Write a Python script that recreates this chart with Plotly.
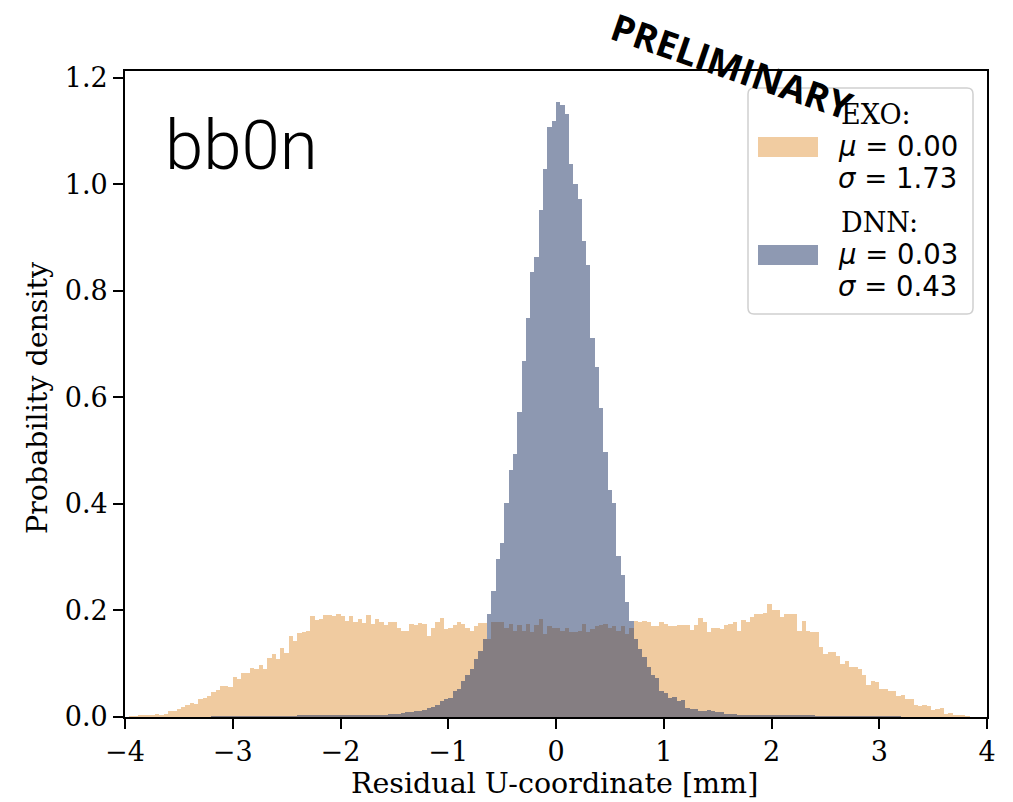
import numpy as np
import plotly.graph_objects as go

# Histogram binning of the residuals (mm)
BIN_LO, BIN_HI, N_BINS = -4.0, 4.0, 200

# Probability density per bin, EXO reconstruction
exo_density = [
    0.000, 0.001, 0.001, 0.002, 0.002, 0.003, 0.003, 0.006, 0.004, 0.006,
    0.011, 0.012, 0.015, 0.018, 0.022, 0.026, 0.024, 0.033, 0.035, 0.040,
    0.047, 0.050, 0.059, 0.058, 0.057, 0.076, 0.071, 0.082, 0.083, 0.092,
    0.090, 0.097, 0.090, 0.110, 0.118, 0.108, 0.129, 0.121, 0.153, 0.143,
    0.157, 0.159, 0.162, 0.189, 0.183, 0.184, 0.192, 0.192, 0.189, 0.194,
    0.189, 0.180, 0.189, 0.178, 0.184, 0.177, 0.192, 0.175, 0.184, 0.178,
    0.172, 0.178, 0.179, 0.168, 0.162, 0.162, 0.175, 0.172, 0.176, 0.175,
    0.153, 0.168, 0.178, 0.185, 0.165, 0.167, 0.172, 0.178, 0.175, 0.168,
    0.162, 0.170, 0.177, 0.177, 0.146, 0.178, 0.178, 0.178, 0.168, 0.175,
    0.162, 0.173, 0.162, 0.175, 0.159, 0.172, 0.184, 0.156, 0.170, 0.168,
    0.167, 0.162, 0.168, 0.160, 0.160, 0.162, 0.175, 0.160, 0.165, 0.170,
    0.173, 0.175, 0.168, 0.170, 0.162, 0.170, 0.156, 0.167, 0.181, 0.178,
    0.181, 0.178, 0.170, 0.170, 0.178, 0.175, 0.170, 0.170, 0.173, 0.172,
    0.173, 0.164, 0.172, 0.185, 0.178, 0.159, 0.167, 0.168, 0.165, 0.173,
    0.175, 0.178, 0.162, 0.183, 0.179, 0.187, 0.194, 0.194, 0.196, 0.213,
    0.200, 0.200, 0.187, 0.194, 0.194, 0.194, 0.162, 0.181, 0.162, 0.159,
    0.159, 0.131, 0.118, 0.122, 0.122, 0.115, 0.099, 0.105, 0.093, 0.093,
    0.090, 0.078, 0.061, 0.068, 0.066, 0.053, 0.052, 0.049, 0.049, 0.040,
    0.042, 0.034, 0.034, 0.023, 0.021, 0.023, 0.020, 0.013, 0.015, 0.017,
    0.006, 0.008, 0.004, 0.003, 0.002, 0.001, 0.000, 0.000, 0.000, 0.000,
]

# Probability density per bin, DNN reconstruction
dnn_density = [
    0.000, 0.000, 0.000, 0.000, 0.000, 0.000, 0.000, 0.000, 0.000, 0.000,
    0.000, 0.000, 0.000, 0.000, 0.000, 0.000, 0.000, 0.000, 0.000, 0.000,
    0.001, 0.001, 0.001, 0.001, 0.001, 0.001, 0.001, 0.001, 0.001, 0.001,
    0.001, 0.001, 0.001, 0.001, 0.001, 0.001, 0.001, 0.001, 0.001, 0.001,
    0.002, 0.002, 0.002, 0.002, 0.002, 0.002, 0.002, 0.002, 0.002, 0.002,
    0.003, 0.003, 0.003, 0.003, 0.003, 0.003, 0.004, 0.004, 0.004, 0.004,
    0.004, 0.006, 0.006, 0.006, 0.008, 0.009, 0.009, 0.011, 0.011, 0.013,
    0.016, 0.018, 0.022, 0.030, 0.033, 0.036, 0.049, 0.052, 0.067, 0.078,
    0.090, 0.108, 0.124, 0.146, 0.194, 0.236, 0.296, 0.326, 0.402, 0.463,
    0.494, 0.572, 0.668, 0.749, 0.835, 0.864, 0.952, 1.029, 1.107, 1.119,
    1.155, 1.150, 1.133, 1.039, 1.000, 0.973, 0.893, 0.848, 0.712, 0.657,
    0.580, 0.497, 0.427, 0.402, 0.303, 0.267, 0.216, 0.181, 0.146, 0.127,
    0.112, 0.093, 0.078, 0.074, 0.049, 0.045, 0.036, 0.038, 0.030, 0.031,
    0.017, 0.015, 0.015, 0.011, 0.011, 0.013, 0.012, 0.009, 0.009, 0.006,
    0.006, 0.006, 0.004, 0.004, 0.004, 0.004, 0.003, 0.003, 0.003, 0.003,
    0.002, 0.002, 0.002, 0.002, 0.002, 0.002, 0.002, 0.002, 0.002, 0.002,
    0.001, 0.001, 0.001, 0.001, 0.001, 0.001, 0.001, 0.001, 0.001, 0.001,
    0.001, 0.001, 0.001, 0.001, 0.001, 0.001, 0.001, 0.001, 0.001, 0.001,
    0.000, 0.000, 0.000, 0.000, 0.000, 0.000, 0.000, 0.000, 0.000, 0.000,
    0.000, 0.000, 0.000, 0.000, 0.000, 0.000, 0.000, 0.000, 0.000, 0.000,
]

x_ticks = [-4, -3, -2, -1, 0, 1, 2, 3, 4]
y_ticks = [0.0, 0.2, 0.4, 0.6, 0.8, 1.0, 1.2]

series_labels = ["EXO:", "DNN:"]
series_mu = ["0.00", "0.03"]
series_sigma = ["1.73", "0.43"]

EXO_COLOR = "rgb(227,153,67)"
DNN_COLOR = "rgb(29,51,101)"
ALPHA = 0.5

bin_w = (BIN_HI - BIN_LO) / N_BINS
centers = BIN_LO + bin_w * (np.arange(N_BINS) + 0.5)

fig = go.Figure()
fig.add_trace(go.Bar(x=centers, y=exo_density, width=bin_w, name="EXO",
                     marker=dict(color=EXO_COLOR, line=dict(width=0)),
                     opacity=ALPHA, hoverinfo="skip"))
fig.add_trace(go.Bar(x=centers, y=dnn_density, width=bin_w, name="DNN",
                     marker=dict(color=DNN_COLOR, line=dict(width=0)),
                     opacity=ALPHA, hoverinfo="skip"))

W, H = 1013, 802
L, R, T, B = 125, 26, 71, 85
PW, PH = W - L - R, H - T - B


def px(X):
    return (X - L) / PW


def py(Y):
    return (T + PH - Y) / PH


SERIF = "DejaVu Serif"
SANS = "DejaVu Sans"
TICK_FONT = dict(family=SERIF, size=27, color="black")
TITLE_FONT = dict(family=SERIF, size=28.5, color="black")

axis_common = dict(
    showline=True, mirror=True, linecolor="black", linewidth=1.8,
    ticks="outside", ticklen=10, tickwidth=1.8, tickcolor="black",
    showgrid=False, zeroline=False, tickfont=TICK_FONT,
)

fig.update_layout(
    width=W, height=H,
    margin=dict(l=L, r=R, t=T, b=B),
    paper_bgcolor="white", plot_bgcolor="white",
    barmode="overlay", bargap=0, showlegend=False,
    xaxis=dict(range=[BIN_LO, BIN_HI], tickvals=x_ticks, **axis_common),
    yaxis=dict(range=[0, 1.213], tickvals=y_ticks, tickformat=".1f", **axis_common),
)

annotations = []
# axis titles
annotations.append(dict(text="Residual U-coordinate [mm]", x=px(554), y=py(783),
                        xref="paper", yref="paper", showarrow=False,
                        xanchor="center", yanchor="middle", font=TITLE_FONT))
annotations.append(dict(text="Probability density", x=px(37), y=py(398),
                        xref="paper", yref="paper", showarrow=False, textangle=-90,
                        xanchor="center", yanchor="middle", font=TITLE_FONT))
# sample label
annotations.append(dict(text="bb0n", x=px(163), y=py(145),
                        xref="paper", yref="paper", showarrow=False,
                        xanchor="left", yanchor="middle",
                        font=dict(family="Roboto", size=69, weight=300, color="black")))

# legend frame (rounded rectangle)
lx0, lx1, ly0, ly1 = px(748), px(973), py(314), py(88)
rx, ry = 6 / PW, 6 / PH
legend_path = (
    f"M {lx0 + rx},{ly0} L {lx1 - rx},{ly0} Q {lx1},{ly0} {lx1},{ly0 + ry} "
    f"L {lx1},{ly1 - ry} Q {lx1},{ly1} {lx1 - rx},{ly1} "
    f"L {lx0 + rx},{ly1} Q {lx0},{ly1} {lx0},{ly1 - ry} "
    f"L {lx0},{ly0 + ry} Q {lx0},{ly0} {lx0 + rx},{ly0} Z"
)
shapes = [dict(type="path", path=legend_path, xref="paper", yref="paper",
               fillcolor="rgba(255,255,255,0.8)",
               line=dict(color="#d0d0d0", width=1.5), layer="above")]

patch_centers = [147, 255]
for color, yc in zip([EXO_COLOR, DNN_COLOR], patch_centers):
    shapes.append(dict(type="rect", xref="paper", yref="paper",
                       x0=px(758), x1=px(818), y0=py(yc + 10), y1=py(yc - 10),
                       fillcolor=color, opacity=ALPHA, line=dict(width=0),
                       layer="above"))

LEG_FONT_SERIF = dict(family=SERIF, size=27, color="black")
LEG_FONT_SANS = dict(family=SANS, size=27.5, color="black")
text_x = px(836)
for lab, mu, sig, yc in zip(series_labels, series_mu, series_sigma, patch_centers):
    annotations.append(dict(text=lab, x=px(839), y=py(yc - 33), xref="paper", yref="paper",
                            showarrow=False, xanchor="left", yanchor="middle",
                            font=LEG_FONT_SERIF))
    annotations.append(dict(text=f"<i>μ</i> = {mu}", x=text_x, y=py(yc - 1),
                            xref="paper", yref="paper", showarrow=False,
                            xanchor="left", yanchor="middle", font=LEG_FONT_SANS))
    annotations.append(dict(text=f"<i>σ</i> = {sig}", x=text_x, y=py(yc + 31),
                            xref="paper", yref="paper", showarrow=False,
                            xanchor="left", yanchor="middle", font=LEG_FONT_SANS))

# stamp across the top right
annotations.append(dict(text="<b>PRELIMINARY</b>", x=px(732), y=py(66),
                        xref="paper", yref="paper", showarrow=False, textangle=19,
                        xanchor="center", yanchor="middle",
                        font=dict(family="Open Sans", size=37, color="black")))

fig.update_layout(shapes=shapes, annotations=annotations)

fig.write_html("out.html")
